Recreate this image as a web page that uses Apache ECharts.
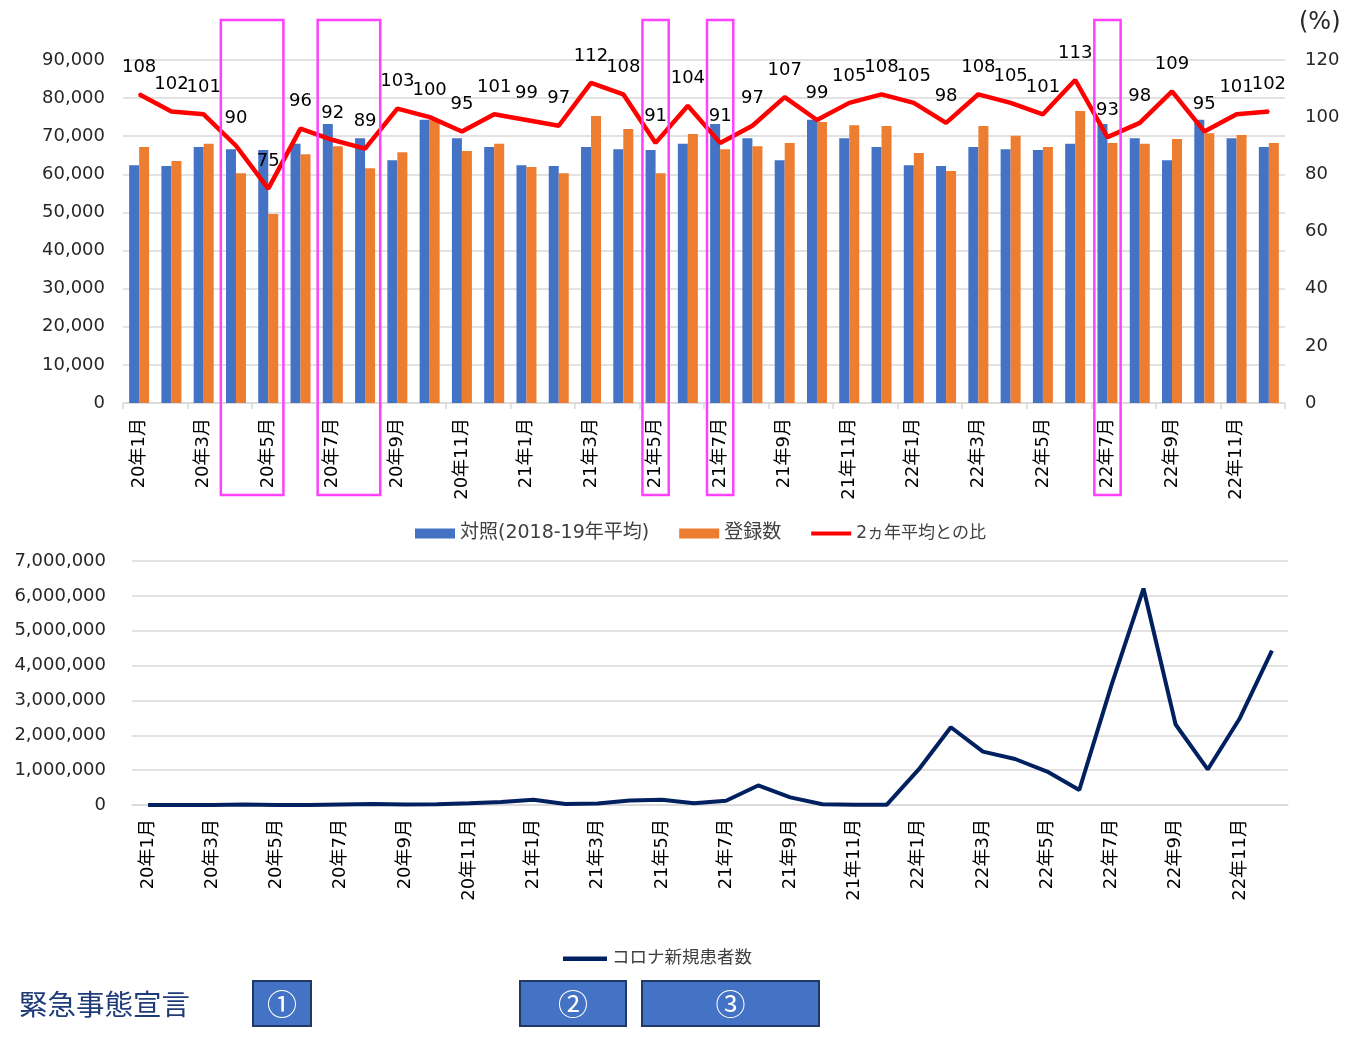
<!DOCTYPE html>
<html>
<head>
<meta charset="utf-8">
<script src="https://cdn.jsdelivr.net/npm/echarts@6/dist/echarts.min.js"></script>
<style>
html,body{margin:0;padding:0;background:#fff;}
#main{width:1361px;height:1044px;}
</style>
</head>
<body>
<div id="main"></div>
<script>
// ---- data ----
var months = [
  '20年1月','20年2月','20年3月','20年4月','20年5月','20年6月','20年7月','20年8月','20年9月','20年10月','20年11月','20年12月',
  '21年1月','21年2月','21年3月','21年4月','21年5月','21年6月','21年7月','21年8月','21年9月','21年10月','21年11月','21年12月',
  '22年1月','22年2月','22年3月','22年4月','22年5月','22年6月','22年7月','22年8月','22年9月','22年10月','22年11月','22年12月'
];
var baseline = [
  62400,62200,67200,66600,66400,68000,73200,69500,63700,74300,69500,67200,
  62400,62200,67200,66600,66400,68000,73200,69500,63700,74300,69500,67200,
  62400,62200,67200,66600,66400,68000,73200,69500,63700,74300,69500,67200
];
var registered = [
  67200,63500,68000,60300,49600,65300,67400,61600,65800,74200,66100,68000,
  61900,60300,75300,71900,60300,70600,66600,67400,68200,73700,72900,72700,
  65600,60900,72700,70100,67200,76600,68200,68000,69300,70800,70300,68200
];
var ratio = [
  108,102,101,90,75,96,92,89,103,100,95,101,
  99,97,112,108,91,104,91,97,107,99,105,108,
  105,98,108,105,101,113,93,98,109,95,101,102
];
var covidCases = [
  0,200,2000,12000,3000,2000,17000,32000,15000,18000,47000,88000,
  150000,30000,40000,130000,150000,50000,120000,560000,220000,20000,5000,5000,
  1020000,2230000,1530000,1320000,960000,430000,3430000,6210000,2310000,1020000,2490000,4430000
];
var leftTicks = [0, 90000, 10000];     // min, max, interval
var rightTicks = [0, 120, 20];
var bottomTicks = [0, 7000000, 1000000];
var seriesNames = ['対照(2018-19年平均)', '登録数', '2ヵ年平均との比', 'コロナ新規患者数'];
// emergency highlight ranges (first and last month)
var highlights = [['20年4月','20年5月'],['20年7月','20年8月'],['21年5月','21年5月'],['21年7月','21年7月'],['22年7月','22年7月']];
var emergencyLabels = ['①','②','③'];

// ---- chart ----
var FONT = '"DejaVu Sans", "Noto Sans CJK JP", sans-serif';
var CJK = '"Noto Sans CJK JP", sans-serif';
var LINE_ICON = 'path://M0,0L44,0L44,4.5L0,4.5Z';
var chart = echarts.init(document.getElementById('main'));
function fmt(v){ return v.toLocaleString('en-US'); }

var option = {
  animation: false,
  textStyle: { fontFamily: FONT },
  grid: [
    { left: 123, right: 76, top: 60, height: 343 },
    { left: 132, right: 73, top: 561, height: 244 }
  ],
  legend: [
    {
      data: [
        { name: seriesNames[0], icon: 'rect' },
        { name: seriesNames[1], icon: 'rect' },
        { name: seriesNames[2], icon: LINE_ICON, textStyle: { fontSize: 17 } }
      ],
      top: 519, left: 410,
      itemWidth: 40, itemHeight: 10, itemGap: 30,
      textStyle: { fontFamily: FONT, fontSize: 19, color: '#404040' }
    },
    {
      data: [{ name: seriesNames[3], icon: LINE_ICON }],
      top: 945, left: 558,
      itemWidth: 44, itemHeight: 10,
      textStyle: { fontFamily: FONT, fontSize: 17.5, color: '#404040' }
    }
  ],
  xAxis: [
    {
      type: 'category', gridIndex: 0, data: months, boundaryGap: true,
      axisLine: { lineStyle: { color: '#d9d9d9', width: 1.5 } },
      axisTick: { show: true, interval: 1, length: 6, lineStyle: { color: '#d9d9d9', width: 1.5 } },
      axisLabel: { interval: 1, rotate: 90, margin: 15, fontSize: 18, color: '#000', fontFamily: FONT }
    },
    {
      type: 'category', gridIndex: 1, data: months, boundaryGap: true,
      axisLine: { lineStyle: { color: '#d9d9d9', width: 1.5 } },
      axisTick: { show: false },
      axisLabel: { interval: 1, rotate: 90, margin: 14, fontSize: 18, color: '#000', fontFamily: FONT }
    }
  ],
  yAxis: [
    {
      type: 'value', gridIndex: 0, min: leftTicks[0], max: leftTicks[1], interval: leftTicks[2],
      axisLine: { show: false }, axisTick: { show: false },
      splitLine: { lineStyle: { color: '#d9d9d9', width: 1.5 } },
      axisLabel: { formatter: fmt, fontSize: 18, margin: 18, color: '#262626', fontFamily: FONT }
    },
    {
      type: 'value', gridIndex: 0, position: 'right', min: rightTicks[0], max: rightTicks[1], interval: rightTicks[2],
      axisLine: { show: false }, axisTick: { show: false }, splitLine: { show: false },
      axisLabel: { fontSize: 18, margin: 20, color: '#262626', fontFamily: FONT }
    },
    {
      type: 'value', gridIndex: 1, min: bottomTicks[0], max: bottomTicks[1], interval: bottomTicks[2],
      axisLine: { show: false }, axisTick: { show: false },
      splitLine: { lineStyle: { color: '#d9d9d9', width: 1.5 } },
      axisLabel: { formatter: fmt, fontSize: 18, margin: 26, color: '#262626', fontFamily: FONT }
    }
  ],
  series: [
    {
      name: seriesNames[0], type: 'bar', xAxisIndex: 0, yAxisIndex: 0, data: baseline,
      barWidth: 10, barGap: '0%', itemStyle: { color: '#4472C4' }
    },
    {
      name: seriesNames[1], type: 'bar', xAxisIndex: 0, yAxisIndex: 0, data: registered,
      barWidth: 10, barGap: '0%', itemStyle: { color: '#ED7D31' }
    },
    {
      name: seriesNames[2], type: 'line', xAxisIndex: 0, yAxisIndex: 1, data: ratio,
      symbol: 'circle', symbolSize: 2, showSymbol: true, z: 5,
      lineStyle: { color: '#FF0000', width: 4.5 }, itemStyle: { color: '#FF0000' },
      label: { show: true, position: 'top', distance: 17, fontSize: 18, color: '#000', fontFamily: FONT }
    },
    {
      name: seriesNames[3], type: 'line', xAxisIndex: 1, yAxisIndex: 2, data: covidCases,
      symbol: 'none',
      lineStyle: { color: '#002060', width: 4 }, itemStyle: { color: '#002060' }
    }
  ]
};
chart.setOption(option);

// ---- decorations computed from axis scale ----
var graphics = [];
var half = (chart.convertToPixel({ xAxisIndex: 0 }, months[1]) - chart.convertToPixel({ xAxisIndex: 0 }, months[0])) / 2;
highlights.forEach(function (h) {
  var x0 = chart.convertToPixel({ xAxisIndex: 0 }, h[0]) - half;
  var x1 = chart.convertToPixel({ xAxisIndex: 0 }, h[1]) + half;
  var inset = (h[0] === h[1]) ? 3 : 1;
  graphics.push({
    type: 'rect', z: 100,
    shape: { x: x0 + inset, y: 20, width: x1 - x0 - 2 * inset, height: 475 },
    style: { fill: 'none', stroke: '#FF40FF', lineWidth: 2.5 }
  });
});
graphics.push({
  type: 'text', left: 1299, top: 11, z: 100,
  style: { text: '(%)', font: '24px "DejaVu Sans"', fill: '#262626' }
});
graphics.push({
  type: 'text', z: 100, x: 19, y: 1004,
  style: { text: '緊急事態宣言', font: '28.5px ' + CJK, fill: '#1F3C78', verticalAlign: 'middle' }
});
var boxes = [[253, 58], [520, 106], [642, 177]];
boxes.forEach(function (b, i) {
  graphics.push({
    type: 'rect', z: 100,
    shape: { x: b[0], y: 981, width: b[1], height: 45 },
    style: { fill: '#4472C4', stroke: '#1F3864', lineWidth: 2 }
  });
  graphics.push({
    type: 'text', z: 101,
    x: b[0] + b[1] / 2, y: 1004,
    style: { text: emergencyLabels[i], font: '30px ' + CJK, fill: '#fff', align: 'center', verticalAlign: 'middle' }
  });
});
chart.setOption({ graphic: graphics });
</script>
</body>
</html>
